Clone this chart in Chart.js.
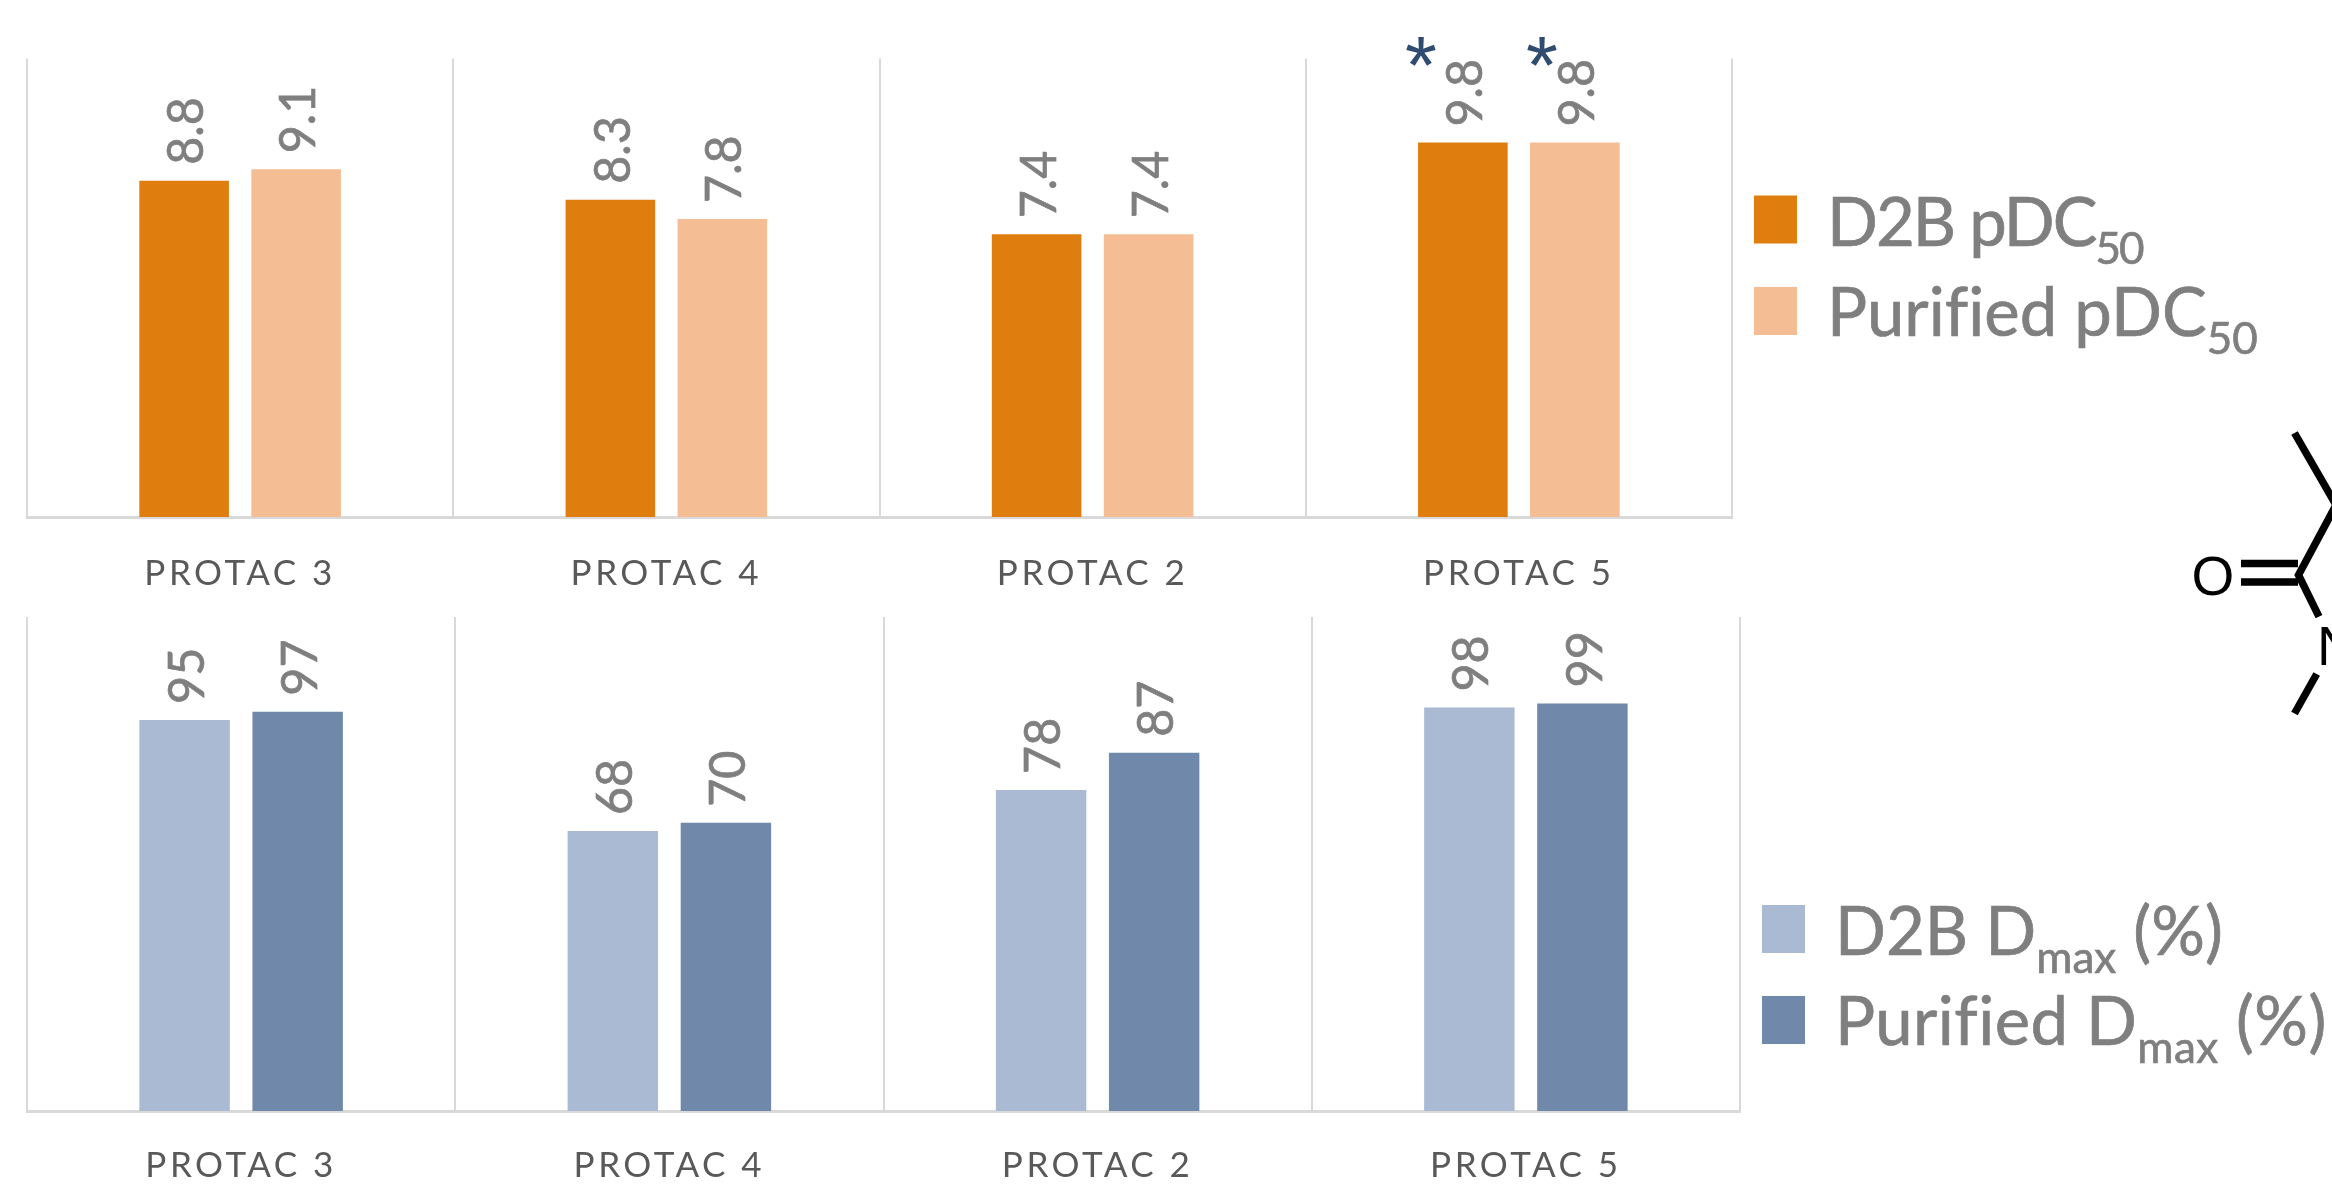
<!DOCTYPE html>
<html>
<head>
<meta charset="utf-8">
<style>
  html, body { margin: 0; padding: 0; background: #fff; width: 2332px; height: 1184px; overflow: hidden; }
  .panel { position: absolute; left: 0; }
  #overlay { position: absolute; left: 0; top: 0; }
  #overlay text { font-family: Lato, sans-serif; font-variant-ligatures: none; }
</style>
<script src="https://cdn.jsdelivr.net/npm/chart.js@4/dist/chart.umd.min.js"></script>
</head>
<body>
<div class="panel" style="top:0;width:1760px;height:600px"><canvas id="pdcChart"></canvas></div>
<div class="panel" style="top:600px;width:1760px;height:584px"><canvas id="dmaxChart"></canvas></div>
<svg id="overlay" width="2332" height="1184" xmlns="http://www.w3.org/2000/svg">
  <g stroke="#000" stroke-width="7.5" fill="none">
    <path d="M2294.5 433 L2336 505 L2298.5 575 L2319 616.6"/>
    <path d="M2241 563.6 H2298 M2241 582 H2298"/>
    <path d="M2316.7 674 L2294.5 713.5"/>
  </g>
  <text x="2213" y="595" text-anchor="middle" style="font-family:'Liberation Sans',sans-serif;font-size:55px" fill="#000">O</text>
  <text x="2317" y="665" style="font-family:'Liberation Sans',sans-serif;font-size:55px" fill="#000">N</text>
  <g id="legends"></g>
</svg>
<script>
const categories = ["PROTAC 3", "PROTAC 4", "PROTAC 2", "PROTAC 5"];
const d2bPdc50 = [8.8, 8.3, 7.4, 9.8];
const purifiedPdc50 = [9.1, 7.8, 7.4, 9.8];
const d2bDmax = [95, 68, 78, 98];
const purifiedDmax = [97, 70, 87, 99];
const starredPdc = [false, false, false, true];

const ORANGE = "#DF7D0E", PEACH = "#F5BD93", PALE_BLUE = "#ABBAD3", SLATE_BLUE = "#7088AA";
const GRID = "#D9D9D9";

// Rotated value labels above each bar, plus optional asterisks
const barLabels = {
  id: "barLabels",
  afterDatasetsDraw(chart, args, opts) {
    const ctx = chart.ctx;
    chart.data.datasets.forEach((ds, di) => {
      chart.getDatasetMeta(di).data.forEach((bar, i) => {
        ctx.save();
        ctx.translate(bar.x + 3, bar.y - opts.gap);
        ctx.rotate(-Math.PI / 2);
        ctx.scale(opts.squeeze, 1);
        ctx.font = opts.font;
        ctx.fillStyle = "#7F7F7F";
        ctx.strokeStyle = "#7F7F7F";
        ctx.lineWidth = 0.7;
        ctx.textAlign = "left";
        ctx.textBaseline = "middle";
        const text = ds.data[i].toFixed(opts.digits);
        ctx.fillText(text, 0, 0);
        ctx.strokeText(text, 0, 0);
        ctx.restore();
        if (opts.starred && opts.starred[i]) {
          ctx.save();
          ctx.font = "82px 'Liberation Sans', sans-serif";
          ctx.fillStyle = "#2F4B70";
          ctx.textAlign = "center";
          ctx.textBaseline = "alphabetic";
          ctx.fillText("*", bar.x + (di ? -33 : -42), 93);
          ctx.restore();
        }
      });
    });
  }
};

// Widens the spacing of the category captions
const tickSpacing = {
  id: "tickSpacing",
  beforeDraw(chart) { chart.ctx.letterSpacing = "3.5px"; },
  beforeDatasetsDraw(chart) { chart.ctx.letterSpacing = "0px"; }
};

function makeChart(id, cfg) {
  return new Chart(document.getElementById(id), {
    type: "bar",
    data: {
      labels: categories,
      datasets: cfg.series.map(s => ({
        label: s.label, data: s.data, backgroundColor: s.color,
        barPercentage: 0.8, categoryPercentage: cfg.catPct
      }))
    },
    plugins: [tickSpacing, barLabels],
    options: {
      responsive: true, maintainAspectRatio: false, animation: false,
      layout: { padding: { left: 27, right: cfg.right, top: cfg.top, bottom: 0 } },
      plugins: {
        legend: { display: false }, tooltip: { enabled: false },
        barLabels: { gap: 16, font: "50px Lato, sans-serif", squeeze: 0.97, digits: cfg.digits, starred: cfg.starred }
      },
      scales: {
        x: {
          offset: true,
          grid: { display: true, offset: true, color: GRID, lineWidth: 2, drawTicks: false },
          border: { display: true, color: GRID, width: 3 },
          ticks: { color: "#595959", font: { family: "Lato, sans-serif", size: 35 }, padding: cfg.tickPad, maxRotation: 0, minRotation: 0 },
          afterFit(scale) { scale.height = cfg.axisH; }
        },
        y: { display: false, min: 0, max: cfg.max }
      }
    }
  });
}

makeChart("pdcChart", {
  series: [
    { label: "D2B pDC50", data: d2bPdc50, color: ORANGE },
    { label: "Purified pDC50", data: purifiedPdc50, color: PEACH }
  ],
  max: 12, digits: 1, catPct: 0.5255, right: 28, top: 58.5, axisH: 83, tickPad: 36, starred: starredPdc
});

makeChart("dmaxChart", {
  series: [
    { label: "D2B Dmax (%)", data: d2bDmax, color: PALE_BLUE },
    { label: "Purified Dmax (%)", data: purifiedDmax, color: SLATE_BLUE }
  ],
  max: 120, digits: 0, catPct: 0.528, right: 20, top: 17, axisH: 73, tickPad: 34
});

// Legend entries carry subscripts, so they are set as SVG text
const legendEntries = [
  { color: ORANGE, x: 1754, y: 195.5, h: 48, main: "D2B pDC", sub: "50", tail: "", base: 246, tracking: -2 },
  { color: PEACH, x: 1754, y: 287, h: 48, main: "Purified pDC", sub: "50", tail: "", base: 336, tracking: 0 },
  { color: PALE_BLUE, x: 1762, y: 905, h: 48, main: "D2B D", sub: "max", tail: " (%)", base: 955, tracking: 0 },
  { color: SLATE_BLUE, x: 1762, y: 996, h: 48, main: "Purified D", sub: "max", tail: " (%)", base: 1045, tracking: 0.4 }
];
const NS = "http://www.w3.org/2000/svg";
const legendGroup = document.getElementById("legends");
legendEntries.forEach(e => {
  const r = document.createElementNS(NS, "rect");
  r.setAttribute("x", e.x); r.setAttribute("y", e.y);
  r.setAttribute("width", 43); r.setAttribute("height", e.h);
  r.setAttribute("fill", e.color);
  legendGroup.appendChild(r);
  const t = document.createElementNS(NS, "text");
  t.setAttribute("x", e.x + 73); t.setAttribute("y", e.base);
  t.setAttribute("fill", "#7F7F7F");
  t.setAttribute("stroke", "#7F7F7F");
  t.setAttribute("stroke-width", 0.7);
  t.setAttribute("font-size", 67);
  t.setAttribute("letter-spacing", e.tracking);
  t.appendChild(document.createTextNode(e.main));
  const s = document.createElementNS(NS, "tspan");
  s.setAttribute("font-size", 44); s.setAttribute("dy", 18);
  s.textContent = e.sub;
  t.appendChild(s);
  if (e.tail) {
    const b = document.createElementNS(NS, "tspan");
    b.setAttribute("font-size", 67); b.setAttribute("dy", -18);
    b.textContent = e.tail;
    t.appendChild(b);
  }
  legendGroup.appendChild(t);
});
</script>
</body>
</html>
